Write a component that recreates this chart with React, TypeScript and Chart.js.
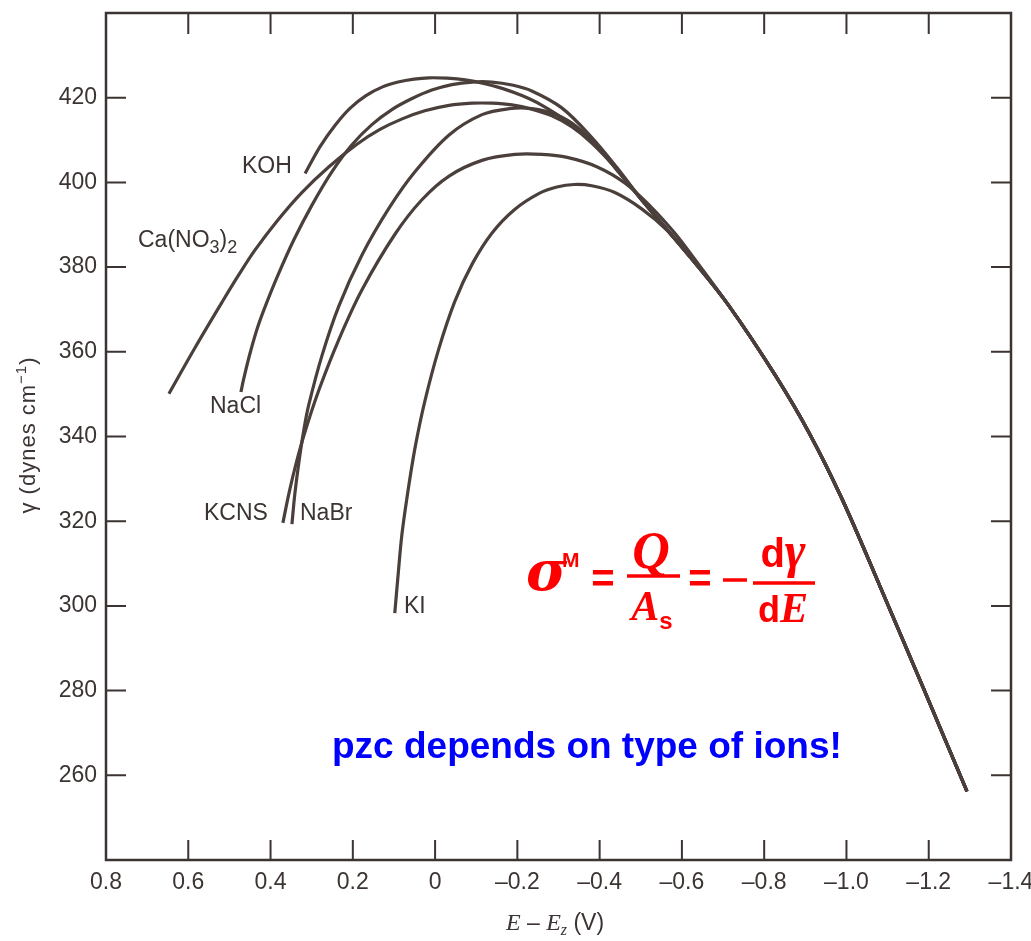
import React, { useEffect, useRef } from 'react';
import { Chart, registerables } from 'chart.js';

Chart.register(...registerables);

// ---- data: electrocapillary curves, E − Ez (V) vs γ (dynes cm−1) ----
const kohE = [0.316, 0.280, 0.243, 0.207, 0.168, 0.129, 0.090, 0.051, 0.015, -0.029, -0.073, -0.121, -0.163, -0.211, -0.260, -0.321, -0.381, -0.442];
const kohGamma = [402.1, 408.4, 413.5, 417.5, 420.5, 422.5, 423.7, 424.4, 424.7, 424.6, 424.2, 423.3, 422.2, 420.5, 418.2, 414.4, 409.5, 403.1];

const caNo3E = [0.647, 0.584, 0.518, 0.477, 0.438, 0.384, 0.324, 0.258, 0.190, 0.134, 0.080, 0.025, -0.034, -0.090, -0.138, -0.187, -0.235, -0.284, -0.333, -0.381, -0.442];
const caNo3Gamma = [350.1, 360.9, 371.7, 378.2, 384.0, 390.9, 397.6, 403.7, 409.0, 412.5, 415.0, 416.9, 418.2, 418.7, 418.7, 418.3, 417.3, 415.7, 413.1, 409.3, 403.1];

const naclE = [0.472, 0.465, 0.450, 0.431, 0.411, 0.382, 0.343, 0.299, 0.251, 0.202, 0.153, 0.105, 0.056, 0.008, -0.041, -0.090, -0.138, -0.187, -0.235, -0.308, -0.381, -0.442];
const naclGamma = [350.5, 353.7, 359.6, 365.9, 371.2, 378.1, 386.5, 394.7, 402.5, 408.9, 413.7, 417.2, 419.8, 421.8, 423.1, 423.7, 423.7, 423.0, 421.6, 417.6, 410.6, 403.5];

const kcnsE = [0.370, 0.355, 0.338, 0.316, 0.282, 0.234, 0.178, 0.098, 0.032, -0.034, -0.114, -0.194, -0.260, -0.321, -0.393, -0.462, -0.527, -0.581, -0.624];
const kcnsGamma = [319.6, 326.7, 333.6, 341.2, 351.1, 362.9, 374.6, 387.7, 395.9, 401.5, 405.2, 406.6, 406.6, 405.9, 403.7, 399.8, 394.0, 388.2, 382.8];

const nabrE = [0.348, 0.341, 0.331, 0.319, 0.307, 0.275, 0.234, 0.178, 0.112, 0.049, -0.034, -0.114, -0.180, -0.235, -0.296, -0.345, -0.393, -0.442];
const nabrGamma = [319.3, 326.4, 334.0, 341.6, 347.5, 359.1, 370.8, 382.8, 393.9, 402.5, 411.2, 416.0, 417.4, 417.4, 415.9, 413.1, 408.6, 402.9];

const kiE = [0.098, 0.090, 0.081, 0.068, 0.049, 0.025, -0.009, -0.048, -0.090, -0.138, -0.192, -0.253, -0.296, -0.338, -0.381, -0.437, -0.503, -0.564, -0.624];
const kiGamma = [298.3, 307.2, 316.6, 325.8, 337.2, 348.3, 360.7, 371.9, 380.7, 388.0, 393.5, 397.4, 398.9, 399.5, 399.2, 397.6, 393.7, 388.7, 382.1];

// where the upper curves have already merged
const bundleE = [-0.503, -0.624];
const bundleGamma = [395.8, 381.9];

// common cathodic branch shared by all electrolytes
const tailE = [-0.714, -0.826, -0.909, -0.989, -1.079, -1.186, -1.293];
const tailGamma = [370.9, 354.6, 340.9, 325.3, 305.2, 280.8, 256.2];

const xTicks = [0.8, 0.6, 0.4, 0.2, 0, -0.2, -0.4, -0.6, -0.8, -1.0, -1.2, -1.4];
const yTicks = [260, 280, 300, 320, 340, 360, 380, 400, 420];
const xMin = -1.4;
const xMax = 0.8;
const yMin = 240;
const yMax = 440;

// ---- styles ----
const INK = '#3b3432';
const CURVE = '#4a3f3b';
const SANS = '"Liberation Sans", Arial, Helvetica, sans-serif';
const SERIF = '"Liberation Serif", "Times New Roman", serif';

type Run = { t: string; f: string; dy?: number };

function runsWidth(ctx: CanvasRenderingContext2D, runs: Run[]) {
  let w = 0;
  for (const r of runs) {
    ctx.font = r.f;
    w += ctx.measureText(r.t).width;
  }
  return w;
}

function drawRuns(ctx: CanvasRenderingContext2D, runs: Run[], x: number, y: number, align: 'left' | 'center' = 'left') {
  const w = runsWidth(ctx, runs);
  let cx = align === 'center' ? x - w / 2 : x;
  ctx.textAlign = 'left';
  ctx.textBaseline = 'alphabetic';
  for (const r of runs) {
    ctx.font = r.f;
    ctx.fillText(r.t, cx, y + (r.dy || 0));
    cx += ctx.measureText(r.t).width;
  }
}

function toPoints(es: number[], gs: number[], withBundle: boolean) {
  const e = es.concat(withBundle ? bundleE : [], tailE);
  const g = gs.concat(withBundle ? bundleGamma : [], tailGamma);
  return e.map((v, i) => ({ x: v, y: g[i] }));
}

function fmtX(v: number) {
  if (Math.abs(v) < 1e-9) return '0';
  return (v < 0 ? '\u2013' : '') + Math.abs(v).toFixed(1);
}

function zeroPad(s: any) {
  s.paddingLeft = 0;
  s.paddingRight = 0;
  s.paddingTop = 0;
  s.paddingBottom = 0;
}

const overlay = {
  id: 'overlay',
  afterDraw(chart: any) {
    const { ctx, chartArea: a, scales } = chart;
    const xs = scales.x;
    const ys = scales.y;
    ctx.save();

    // inward tick marks on all four sides
    ctx.strokeStyle = INK;
    ctx.lineWidth = 2;
    ctx.beginPath();
    for (const v of xTicks) {
      if (v === xMin || v === xMax) continue;
      const px = xs.getPixelForValue(v);
      ctx.moveTo(px, a.bottom);
      ctx.lineTo(px, a.bottom - 20);
      ctx.moveTo(px, a.top);
      ctx.lineTo(px, a.top + 21);
    }
    for (const v of yTicks) {
      const py = ys.getPixelForValue(v);
      ctx.moveTo(a.left, py);
      ctx.lineTo(a.left + 20, py);
      ctx.moveTo(a.right, py);
      ctx.lineTo(a.right - 20, py);
    }
    ctx.stroke();

    // frame
    ctx.lineWidth = 2.5;
    ctx.strokeRect(a.left, a.top, a.right - a.left, a.bottom - a.top);

    // curve labels
    ctx.fillStyle = INK;
    const lf = `23px ${SANS}`;
    const sf = `18px ${SANS}`;
    drawRuns(ctx, [{ t: 'KOH', f: lf }], 242, 173);
    drawRuns(ctx, [
      { t: 'Ca(NO', f: lf },
      { t: '3', f: sf, dy: 6 },
      { t: ')', f: lf },
      { t: '2', f: sf, dy: 6 },
    ], 138, 247);
    drawRuns(ctx, [{ t: 'NaCl', f: lf }], 210, 413);
    drawRuns(ctx, [{ t: 'KCNS', f: lf }], 204, 520);
    drawRuns(ctx, [{ t: 'NaBr', f: lf }], 300, 520);
    drawRuns(ctx, [{ t: 'KI', f: lf }], 404, 613);

    // x axis title
    const tf = `italic 24px ${SERIF}`;
    drawRuns(ctx, [
      { t: 'E', f: tf },
      { t: ' \u2013 ', f: `23px ${SANS}` },
      { t: 'E', f: tf },
      { t: 'z', f: `italic 16px ${SERIF}`, dy: 5 },
      { t: ' (V)', f: `23px ${SANS}` },
    ], 555, 930, 'center');

    // y axis title (rotated)
    ctx.save();
    ctx.translate(35, 435);
    ctx.rotate(-Math.PI / 2);
    (ctx as any).letterSpacing = '1px';
    drawRuns(ctx, [
      { t: '\u03b3 (dynes cm', f: `22px ${SANS}` },
      { t: '\u22121', f: `15px ${SANS}`, dy: -9 },
      { t: ')', f: `22px ${SANS}` },
    ], 0, 0, 'center');
    ctx.restore();

    // blue note
    ctx.fillStyle = '#0000ff';
    drawRuns(ctx, [{ t: 'pzc depends on type of ions!', f: `bold 37px ${SANS}` }], 332, 758);

    // red equation
    ctx.fillStyle = '#ff0000';
    ctx.strokeStyle = '#ff0000';
    const bi = `bold italic 42px ${SERIF}`;
    drawRuns(ctx, [{ t: '\u03c3', f: `bold italic 56px "DejaVu Serif", ${SERIF}` }], 526, 590);
    drawRuns(ctx, [{ t: 'M', f: `bold 21px ${SANS}` }], 562, 567);
    drawRuns(ctx, [{ t: '=', f: `bold 40px ${SANS}` }], 603, 592, 'center');
    drawRuns(ctx, [{ t: 'Q', f: `bold italic 52px ${SERIF}` }], 651, 568, 'center');
    ctx.lineWidth = 3.5;
    ctx.beginPath();
    ctx.moveTo(627, 576);
    ctx.lineTo(680, 576);
    ctx.stroke();
    drawRuns(ctx, [
      { t: 'A', f: bi },
      { t: 's', f: `bold 24px ${SANS}`, dy: 9 },
    ], 652, 620, 'center');
    drawRuns(ctx, [{ t: '=', f: `bold 40px ${SANS}` }], 700, 592, 'center');
    ctx.beginPath();
    ctx.moveTo(723, 580);
    ctx.lineTo(747, 580);
    ctx.stroke();
    drawRuns(ctx, [
      { t: 'd', f: `bold 40px ${SANS}` },
      { t: '\u03b3', f: `bold italic 50px ${SERIF}` },
    ], 783, 567, 'center');
    ctx.beginPath();
    ctx.moveTo(753, 583);
    ctx.lineTo(815, 583);
    ctx.stroke();
    drawRuns(ctx, [
      { t: 'd', f: `bold 36px ${SANS}` },
      { t: 'E', f: bi },
    ], 783, 622, 'center');

    ctx.restore();
  },
};

export default function App() {
  const ref = useRef<HTMLCanvasElement | null>(null);

  useEffect(() => {
    if (!ref.current) return;
    const mk = (label: string, es: number[], gs: number[], withBundle: boolean) => ({
      label,
      data: toPoints(es, gs, withBundle),
      showLine: true,
      borderColor: CURVE,
      backgroundColor: CURVE,
      borderWidth: 3.2,
      pointRadius: 0,
      tension: 0.35,
      fill: false,
    });
    const chart = new Chart(ref.current, {
      type: 'scatter',
      data: {
        datasets: [
          mk('KOH', kohE, kohGamma, true),
          mk('Ca(NO3)2', caNo3E, caNo3Gamma, true),
          mk('NaCl', naclE, naclGamma, true),
          mk('KCNS', kcnsE, kcnsGamma, false),
          mk('NaBr', nabrE, nabrGamma, true),
          mk('KI', kiE, kiGamma, false),
        ],
      },
      options: {
        animation: false,
        responsive: false,
        devicePixelRatio: 1,
        layout: { padding: { top: 13, right: 20, left: 0, bottom: 0 } },
        plugins: {
          legend: { display: false },
          tooltip: { enabled: false },
          title: { display: false },
        },
        scales: {
          x: {
            type: 'linear',
            min: xMin,
            max: xMax,
            reverse: true,
            afterBuildTicks: (s: any) => {
              s.ticks = xTicks.map((v) => ({ value: v }));
            },
            afterFit: (s: any) => {
              s.height = 81;
              zeroPad(s);
            },
            grid: { display: false, drawTicks: false },
            border: { display: false },
            ticks: {
              autoSkip: false,
              maxRotation: 0,
              padding: 9,
              color: INK,
              font: { family: SANS, size: 23 },
              callback: (v: any) => fmtX(Number(v)),
            },
          },
          y: {
            type: 'linear',
            min: yMin,
            max: yMax,
            afterBuildTicks: (s: any) => {
              s.ticks = yTicks.map((v) => ({ value: v }));
            },
            afterFit: (s: any) => {
              s.width = 106;
              zeroPad(s);
            },
            grid: { display: false, drawTicks: false },
            border: { display: false },
            ticks: {
              autoSkip: false,
              padding: 9,
              color: INK,
              font: { family: SANS, size: 23 },
              callback: (v: any) => String(v),
            },
          },
        },
      },
      plugins: [overlay],
    } as any);
    return () => chart.destroy();
  }, []);

  return (
    <div style={{ position: 'fixed', left: 0, top: 0, width: 1031, height: 941, background: '#ffffff' }}>
      <canvas ref={ref} width={1031} height={941} style={{ display: 'block', width: 1031, height: 941 }} />
    </div>
  );
}
